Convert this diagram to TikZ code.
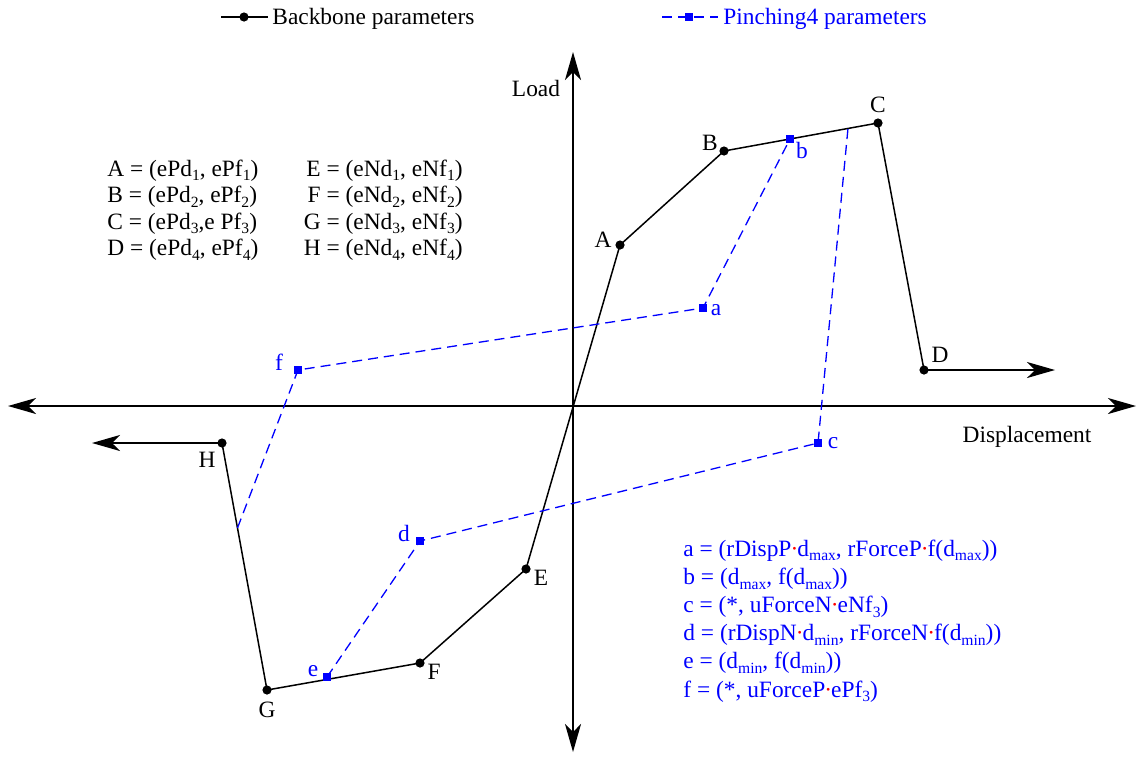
\documentclass[tikz,border=0pt]{standalone}
\usepackage{fontspec}
\setmainfont{Liberation Serif}
\usetikzlibrary{arrows.meta,calc}
\newcommand{\rdot}{\kern-0.04em{\color{red}·}\kern-0.04em}
\newcommand{\sbs}[1]{\raisebox{-0.45ex}{\fontsize{7.8}{8}\selectfont #1}}
\begin{document}
\begin{tikzpicture}[x=0.5pt,y=-0.5pt,
  every node/.style={font=\fontsize{11.7}{14}\selectfont, inner sep=0pt},
  tip/.style={-{Stealth[length=14pt,width=8pt,inset=4pt]}},
  axisline/.style={line width=0.9pt, tip},
  bbline/.style={line width=0.75pt},
  pline/.style={blue, line width=0.65pt, dash pattern=on 5pt off 3pt},
  bdot/.style={fill=black},
  pmark/.style={fill=blue, draw=none, rectangle, minimum size=4pt},
  blab/.style={text=black},
  plab/.style={text=blue},
]
\useasboundingbox (0,0) rectangle (1138,761);

% coordinates
\coordinate (O) at (573,406);
\coordinate (Lft) at (8,406);
\coordinate (Rgt) at (1136,406);
\coordinate (Top) at (573,52);
\coordinate (Bot) at (573,752);
\coordinate (A) at (620,245);
\coordinate (B) at (724,151);
\coordinate (C) at (878,123);
\coordinate (D) at (924,370);
\coordinate (Dend) at (1055,370);
\coordinate (E) at (526,569);
\coordinate (F) at (420,663);
\coordinate (G) at (267,690);
\coordinate (H) at (222,443);
\coordinate (Hend) at (92,443);
\coordinate (pa) at (703,308);
\coordinate (pb) at (790,139);
\coordinate (pc) at (818,443);
\coordinate (pd) at (420,541);
\coordinate (pe) at (327,677);
\coordinate (pf) at (298,370);
\coordinate (onBC) at ($(B)!0.805!(C)$);
\coordinate (onHG) at ($(H)!0.344!(G)$);

% axes
\draw[axisline] (O) -- (Rgt);
\draw[axisline] (O) -- (Lft);
\draw[axisline] (O) -- (Top);
\draw[axisline] (O) -- (Bot);

% backbone
\draw[bbline] (H) -- (G) -- (F) -- (E) -- (A) -- (B) -- (C) -- (D);
\draw[bbline, tip] (D) -- (Dend);
\draw[bbline, tip] (H) -- (Hend);

% pinching
\draw[pline] (onHG) -- (pf) -- (pa) -- (pb);
\draw[pline] (pe) -- (pd) -- (pc) -- (onBC);

% dots
\foreach \p in {A,B,C,D,E,F,G,H} \fill[bdot] (\p) circle (2.3pt);
\foreach \p in {pa,pb,pc,pd,pe,pf} \node[pmark] at (\p) {};

% point labels
\node[blab] (lA) at (603,240) {A};
\node[blab] (lB) at (710,143) {B};
\node[blab] (lC) at (878,105) {C};
\node[blab] (lD) at (940,355) {D};
\node[blab] (lE) at (541,578) {E};
\node[blab] (lF) at (434,672) {F};
\node[blab] (lG) at (267,710) {G};
\node[blab] (lH) at (207,460) {H};
\node[plab] (la) at (716,310) {a};
\node[plab] (lb) at (802,150) {b};
\node[plab] (lc) at (833,443) {c};
\node[plab] (ld) at (404,533) {d};
\node[plab] (le) at (313,671) {e};
\node[plab] (lf) at (279,362) {f};

% axis labels
\node (load) at (536,88) {Load};
\node (disp) at (1027,437) {Displacement};

% legend
\coordinate (lg1a) at (221,17);
\coordinate (lg1b) at (268,17);
\coordinate (lg1m) at (244,17);
\draw[bbline] (lg1a) -- (lg1b);
\fill[bdot] (lg1m) circle (2.3pt);
\node[anchor=base west] (leg1) at (272,24) {Backbone parameters};
\coordinate (lg2a) at (662,17);
\coordinate (lg2b) at (718,17);
\coordinate (lg2m) at (689,17);
\draw[pline] (lg2a) -- (lg2b);
\node[pmark] (lg2mk) at (lg2m) {};
\node[anchor=base west, text=blue] (leg2) at (723,24) {Pinching4 parameters};

% backbone definitions
\node[anchor=base west] (tA) at (107,176) {A = (ePd\sbs{1}, ePf\sbs{1})};
\node[anchor=base west] (tB) at (107,202.5) {B = (ePd\sbs{2}, ePf\sbs{2})};
\node[anchor=base west] (tC) at (107,229) {C = (ePd\sbs{3},e Pf\sbs{3})};
\node[anchor=base west] (tD) at (107,255.5) {D = (ePd\sbs{4}, ePf\sbs{4})};
\node[anchor=base east] (tE) at (463,176) {E = (eNd\sbs{1}, eNf\sbs{1})};
\node[anchor=base east] (tF) at (463,202.5) {F = (eNd\sbs{2}, eNf\sbs{2})};
\node[anchor=base east] (tG) at (463,229) {G = (eNd\sbs{3}, eNf\sbs{3})};
\node[anchor=base east] (tH) at (463,255.5) {H = (eNd\sbs{4}, eNf\sbs{4})};

% pinching definitions
\node[anchor=base west, text=blue] (ta) at (683,556) {a = (rDispP\rdot d\sbs{max}, rForceP\rdot f(d\sbs{max}))};
\node[anchor=base west, text=blue] (tb) at (683,584.2) {b = (d\sbs{max}, f(d\sbs{max}))};
\node[anchor=base west, text=blue] (tc) at (683,612.4) {c = (*, uForceN\rdot eNf\sbs{3})};
\node[anchor=base west, text=blue] (td) at (683,640.6) {d = (rDispN\rdot d\sbs{min}, rForceN\rdot f(d\sbs{min}))};
\node[anchor=base west, text=blue] (te) at (683,668.8) {e = (d\sbs{min}, f(d\sbs{min}))};
\node[anchor=base west, text=blue] (tf) at (683,697) {f = (*, uForceP\rdot ePf\sbs{3})};
\end{tikzpicture}
\end{document}
